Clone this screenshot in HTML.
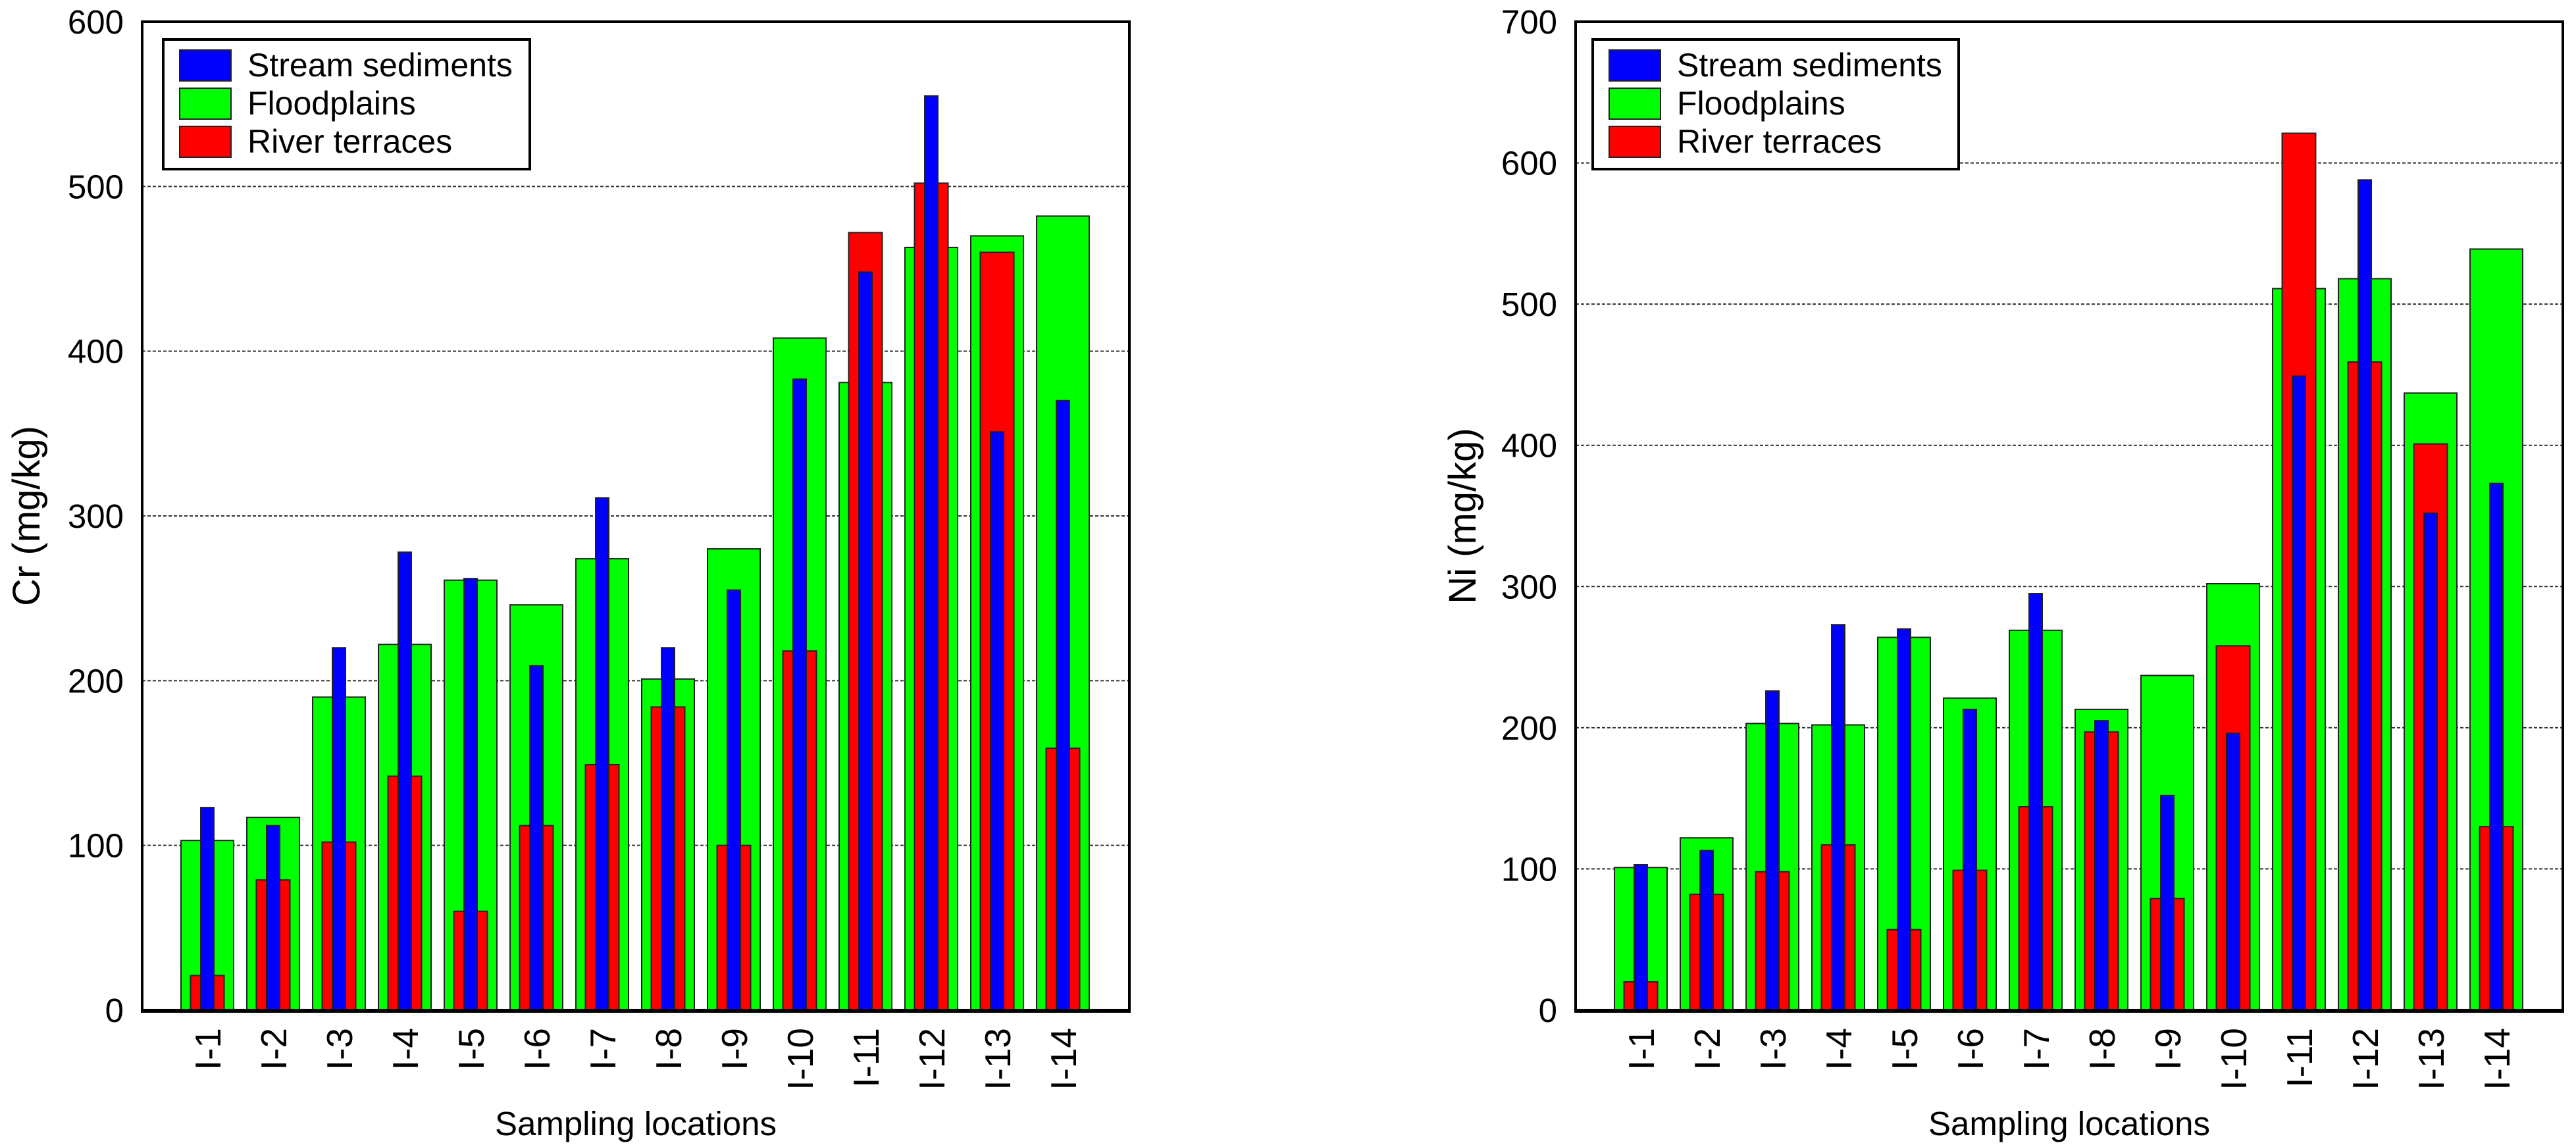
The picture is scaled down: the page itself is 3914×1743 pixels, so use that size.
<!DOCTYPE html>
<html><head><meta charset="utf-8">
<style>
html,body{margin:0;padding:0;background:#fff;}
svg{display:block;font-family:"Liberation Sans",Arial,sans-serif;}
</style></head>
<body>
<svg id="chart" width="3914" height="1743" viewBox="0 0 3914 1743" xmlns="http://www.w3.org/2000/svg"></svg>
<script>
const categories = ["I-1","I-2","I-3","I-4","I-5","I-6","I-7","I-8","I-9","I-10","I-11","I-12","I-13","I-14"];
const crStream = [123,112,220,278,262,209,311,220,255,383,448,555,351,370];
const crFlood  = [103,117,190,222,261,246,274,201,280,408,381,463,470,482];
const crTerr   = [21,79,102,142,60,112,149,184,100,218,472,502,460,159];
const niStream = [103,113,226,273,270,213,295,205,152,196,449,588,352,373];
const niFlood  = [101,122,203,202,264,221,269,213,237,302,511,518,437,539];
const niTerr   = [20,82,98,117,57,99,144,197,79,258,621,459,401,130];
const crTicks = [0,100,200,300,400,500,600];
const niTicks = [0,100,200,300,400,500,600,700];
const legendLabels = ["Stream sediments","Floodplains","River terraces"];

const NS = "http://www.w3.org/2000/svg";
const svg = document.getElementById('chart');
function mk(tag, attrs, parent){
  const e = document.createElementNS(NS, tag);
  for (const k in attrs) e.setAttribute(k, attrs[k]);
  (parent||svg).appendChild(e);
  return e;
}

function drawChart(cfg){
  const g = mk('g', {});
  
  
  const L=cfg.left, R=cfg.right, T=33, B=1535;
  const yMax = cfg.ticks[cfg.ticks.length-1];
  const y = v => B - v/yMax*(B-T);
  const x = i => L + 99 + i*100;

  cfg.ticks.forEach(t=>{
    if(t===0||t===yMax) return;
    const gl = mk('line',{x1:L,x2:R,y1:y(t),y2:y(t),stroke:'#333','stroke-width':2,'stroke-dasharray':'5,3'},g);
    
    
  });
  cfg.ticks.forEach(t=>{
    const tl = mk('text',{x:cfg.left-28,y:y(t)+18,'text-anchor':'end','font-size':51,fill:'#000'},g);
    tl.textContent = t;
    
    
  });
  const series = [
    {vals:cfg.flood, w:80, fill:'#00ff00', n:'floodplains'},
    {vals:cfg.terr, w:51, fill:'#ff0000', n:'river-terraces'},
    {vals:cfg.stream, w:20, fill:'#0000ff', n:'stream-sediments'}
  ];
  series.forEach(s=>{
    s.vals.forEach((v,i)=>{
      const r = mk('rect',{x:x(i)-s.w/2,y:y(v),width:s.w,height:B-y(v),fill:s.fill,stroke:'#222','stroke-width':2},g);
      
      
    });
  });
  const fr = mk('rect',{x:L,y:T,width:R-L,height:B-T,fill:'none',stroke:'#000','stroke-width':4},g);
  
  
  const xa = mk('line',{x1:L-2,x2:R+2,y1:B+1,y2:B+1,stroke:'#000','stroke-width':6},g);
  
  
  categories.forEach((c,i)=>{
    const t = mk('text',{x:0,y:0,'text-anchor':'end','font-size':55,fill:'#000',transform:'translate('+(x(i)+20)+',1562) rotate(-90)'},g);
    t.textContent = c;
    
    
  });
  const xt = mk('text',{x:(L+R)/2,y:1725,'text-anchor':'middle','font-size':51,fill:'#000'},g);
  xt.textContent='Sampling locations';
  
  
  const yt = mk('text',{x:0,y:0,'text-anchor':'middle','font-size':58,fill:'#000',transform:'translate('+cfg.ytx+',784) rotate(-90)'},g);
  yt.textContent=cfg.ytitle;
  
  
  const lg = mk('g',{},g);
  
  
  mk('rect',{x:cfg.lx,y:60,width:cfg.lw,height:197,fill:'#fff',stroke:'#000','stroke-width':4},lg);
  const cols=['#0000ff','#00ff00','#ff0000'];
  legendLabels.forEach((lab,k)=>{
    const sw = mk('rect',{x:cfg.lx+25,y:76+k*58,width:78,height:47,fill:cols[k],stroke:'#222','stroke-width':2},lg);
    
    
    const lt = mk('text',{x:cfg.lx+128,y:116+k*58,'font-size':50,fill:'#000'},lg);
    lt.textContent=lab;
    
    
  });
}

drawChart({name:'cr-chart',left:216,right:1716,ticks:crTicks,stream:crStream,flood:crFlood,terr:crTerr,ytitle:'Cr (mg/kg)',ytx:60,lx:248,lw:557});
drawChart({name:'ni-chart',left:2394,right:3894,ticks:niTicks,stream:niStream,flood:niFlood,terr:niTerr,ytitle:'Ni (mg/kg)',ytx:2242,lx:2420,lw:556});
</script>
</body></html>
